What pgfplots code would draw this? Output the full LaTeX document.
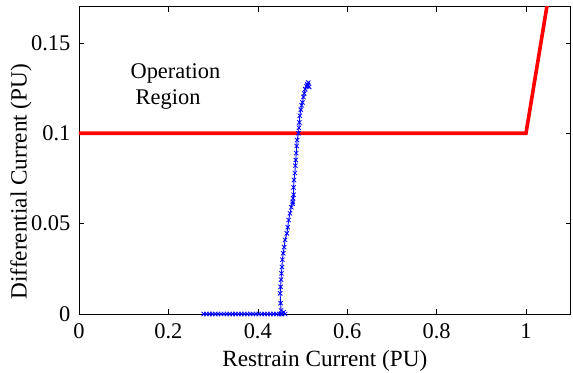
\documentclass[border=0pt]{standalone}
\usepackage{fontspec}
\setmainfont{Liberation Serif}
\usepackage{pgfplots}
\pgfplotsset{compat=1.18}
\begin{document}
\fontsize{22.5}{27}\selectfont
\begin{tikzpicture}
\useasboundingbox (-79bp,-59bp) rectangle (494bp,314bp);
\begin{axis}[
  at={(0,0)}, anchor=south west,
  width=491.7bp, height=307.3bp, scale only axis,
  xmin=0, xmax=1.1, ymin=0, ymax=0.17,
  xtick={0,0.2,0.4,0.6,0.8,1},
  ytick={0,0.05,0.1,0.15},
  tick align=inside,
  major tick length=5bp,
  tick style={black, line width=0.6pt},
  axis line style={black, line width=0.9pt},
  /pgf/number format/assume math mode=true,
  /pgf/number format/fixed,
  /pgf/number format/precision=2,
  tick label style={font=\fontsize{22.5}{27}\selectfont},
  xticklabel style={anchor=base, yshift=-24bp},
  yticklabel style={anchor=east, xshift=-1bp},
  xlabel={Restrain Current (PU)},
  ylabel={Differential Current (PU)},
  xlabel style={at={(axis description cs:0.5,0)}, anchor=base, yshift=-52.7bp, font=\fontsize{23.3}{27}\selectfont},
  ylabel style={at={(axis description cs:-0.1403,0.4307)}, anchor=north, inner sep=0pt, font=\fontsize{23.3}{27}\selectfont},
]
\addplot[red, line width=3.6bp] coordinates {(0,0.1) (1,0.1) (1.1,0.25)};
\addplot[blue, line width=0.9pt, mark=x, mark size=3bp, mark options={line width=0.8pt}] coordinates {
(0.279,0) (0.285,0) (0.292,0) (0.298,0) (0.305,0) (0.311,0) (0.318,0) (0.324,0)
(0.331,0) (0.337,0) (0.344,0) (0.350,0) (0.357,0) (0.363,0) (0.370,0) (0.376,0)
(0.383,0) (0.389,0) (0.396,0) (0.402,0) (0.409,0) (0.415,0) (0.422,0) (0.428,0)
(0.435,0) (0.441,0) (0.448,0) (0.454,0) (0.461,0) (0.458,0.001) (0.452,0)
(0.452,0.002) (0.451,0.006) (0.450,0.0114) (0.451,0.015) (0.452,0.019) (0.453,0.0225)
(0.454,0.026) (0.455,0.030) (0.457,0.0336) (0.459,0.037) (0.461,0.041) (0.465,0.0446)
(0.467,0.048) (0.469,0.052) (0.472,0.0557) (0.475,0.059) (0.478,0.062) (0.479,0.064)
(0.478,0.061) (0.480,0.066) (0.480,0.070) (0.481,0.0741) (0.483,0.078) (0.484,0.082)
(0.485,0.0852) (0.486,0.089) (0.487,0.093) (0.488,0.0962) (0.491,0.100) (0.492,0.103)
(0.493,0.106) (0.494,0.1097) (0.496,0.113) (0.498,0.1155) (0.500,0.117) (0.502,0.120)
(0.504,0.122) (0.506,0.1244) (0.509,0.126) (0.511,0.127) (0.513,0.128) (0.515,0.1256)
(0.512,0.1265)
};
\node[anchor=base, inner sep=0pt] at (axis cs:0.2157,0.1303) {Operation};
\node[anchor=base, inner sep=0pt] at (axis cs:0.1993,0.1159) {Region};
\end{axis}
\end{tikzpicture}
\end{document}
